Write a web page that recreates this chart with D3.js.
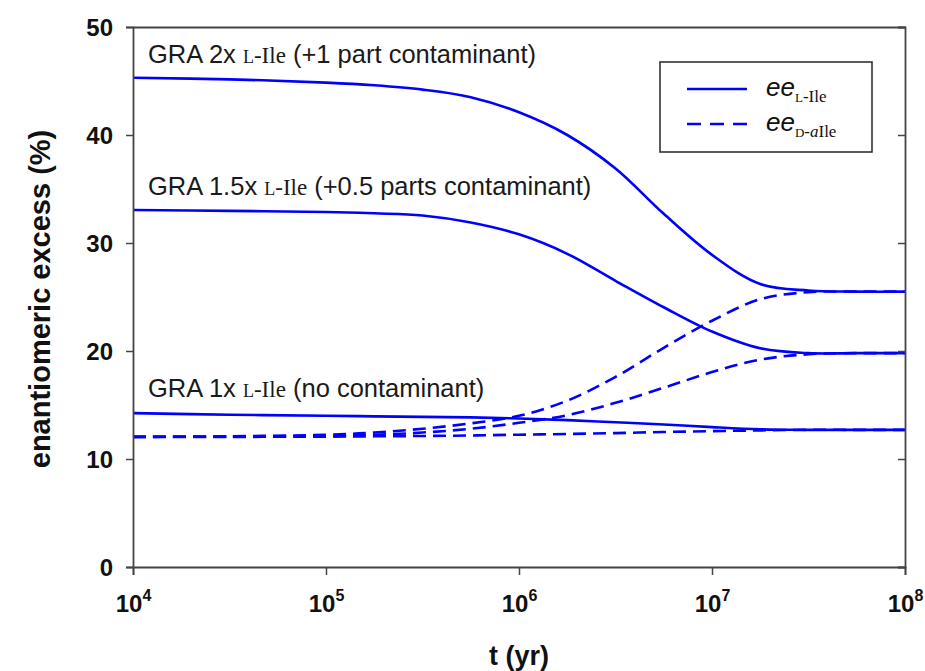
<!DOCTYPE html>
<html>
<head>
<meta charset="utf-8">
<script src="https://cdn.jsdelivr.net/npm/d3@7"></script>
<style>
  body { margin: 0; background: #fff; }
  text { font-family: Arial, "Liberation Sans", sans-serif; }
</style>
</head>
<body>
<svg id="chart" width="925" height="671"></svg>
<script>
// time grid, log10(t / yr)
const logT = [4, 4.5, 5, 5.25, 5.5, 5.75, 6, 6.25, 6.5, 6.75, 7, 7.25, 7.5, 7.75, 8];

// ee of L-Ile (%)
const eeL_2x   = [45.3, 45.15, 44.85, 44.6, 44.2, 43.5, 42.1, 40.0, 36.9, 32.7, 28.9, 26.2, 25.6, 25.5, 25.5];
const eeL_1_5x = [33.05, 32.97, 32.87, 32.75, 32.55, 31.9, 30.8, 29.0, 26.5, 24.05, 21.8, 20.25, 19.8, 19.8, 19.8];
const eeL_1x   = [14.25, 14.1, 14.0, 13.95, 13.9, 13.85, 13.75, 13.6, 13.4, 13.2, 12.95, 12.75, 12.7, 12.7, 12.7];

// ee of D-aIle (%)
const eeD_2x   = [12.05, 12.1, 12.25, 12.45, 12.8, 13.3, 14.0, 15.4, 17.6, 20.3, 22.8, 24.8, 25.45, 25.5, 25.5];
const eeD_1_5x = [12.05, 12.07, 12.15, 12.25, 12.45, 12.8, 13.35, 14.05, 15.2, 16.6, 18.05, 19.2, 19.7, 19.8, 19.8];
const eeD_1x   = [12.05, 12.05, 12.07, 12.1, 12.13, 12.18, 12.25, 12.32, 12.4, 12.5, 12.58, 12.65, 12.7, 12.7, 12.7];

const xTickExp = [4, 5, 6, 7, 8];
const yTicks = [0, 10, 20, 30, 40, 50];

const blue = "#0000ff";
const ink = "#111";
const serif = "'Liberation Serif', 'DejaVu Serif', serif";
const svg = d3.select("#chart");
const m = { left: 133, top: 27, right: 20, bottom: 104 };
const W = 925 - m.left - m.right, H = 671 - m.top - m.bottom;

const x = d3.scaleLog().domain([1e4, 1e8]).range([0, W]);
const y = d3.scaleLinear().domain([0, 50]).range([H, 0]);

const g = svg.append("g").attr("transform", `translate(${m.left},${m.top})`);

// curves: solid = L-Ile, dashed = D-aIle
const series = [
  { v: eeL_2x, dash: null }, { v: eeL_1_5x, dash: null }, { v: eeL_1x, dash: null },
  { v: eeD_2x, dash: "13,7" }, { v: eeD_1_5x, dash: "13,7" }, { v: eeD_1x, dash: "13,7" }
];
const line = d3.line()
  .x(d => x(Math.pow(10, d[0])))
  .y(d => y(d[1]))
  .curve(d3.curveCatmullRom.alpha(0.5));

series.forEach(s => {
  g.append("path")
    .datum(logT.map((t, i) => [t, s.v[i]]))
    .attr("d", line)
    .attr("fill", "none")
    .attr("stroke", blue)
    .attr("stroke-width", 2.6)
    .attr("stroke-dasharray", s.dash);
});

// frame and ticks
const frameColor = "#444";
const gx = g.append("g").attr("transform", `translate(0,${H})`)
  .call(d3.axisBottom(x).tickValues(xTickExp.map(e => Math.pow(10, e))).tickSize(8).tickFormat(""));
const gy = g.append("g")
  .call(d3.axisLeft(y).tickValues(yTicks).tickSize(7).tickFormat(""));
const gyr = g.append("g").attr("transform", `translate(${W},0)`)
  .call(d3.axisRight(y).tickValues(yTicks).tickSize(-7).tickFormat(""));
const gxt = g.append("g")
  .call(d3.axisTop(x).tickValues([]).tickSize(0).tickFormat(""));
[gx, gy, gyr, gxt].forEach(a => {
  a.selectAll("path.domain").attr("stroke", frameColor).attr("stroke-width", 1.8);
  a.selectAll(".tick line").attr("stroke", frameColor).attr("stroke-width", 1.5);
});

// y tick labels
gy.selectAll(".tick").append("text")
  .attr("x", -20).attr("dy", "0.36em")
  .attr("text-anchor", "end")
  .attr("fill", ink)
  .style("font-size", "24px").style("font-weight", "bold")
  .text(d => d);

// x tick labels: 10^n
gx.selectAll(".tick").each(function(d) {
  const e = Math.round(Math.log10(d));
  const t = d3.select(this).append("text")
    .attr("y", 45).attr("text-anchor", "middle")
    .attr("fill", ink)
    .style("font-size", "24px").style("font-weight", "bold");
  t.append("tspan").text("10");
  t.append("tspan").attr("dy", -11).style("font-size", "16px").text(e);
});

// axis titles
svg.append("text")
  .attr("x", m.left + W / 2).attr("y", 665)
  .attr("text-anchor", "middle").attr("fill", ink)
  .style("font-size", "27px").style("font-weight", "bold")
  .text("t (yr)");
svg.append("text")
  .attr("transform", `translate(50,${m.top + H / 2 + 2}) rotate(-90)`)
  .attr("text-anchor", "middle").attr("fill", ink)
  .style("font-size", "29px").style("font-weight", "bold")
  .text("enantiomeric excess (%)");

// curve annotations
const labelLead = ["GRA 2x ", "GRA 1.5x ", "GRA 1x "];
const labelTail = [" (+1 part contaminant)", " (+0.5 parts contaminant)", " (no contaminant)"];
const labelPos = [[148, 63], [148, 195], [148, 397]];
labelLead.forEach((lead, i) => {
  const t = svg.append("text")
    .attr("x", labelPos[i][0]).attr("y", labelPos[i][1])
    .attr("fill", "#1a1a1a").style("font-size", "25.5px");
  t.append("tspan").text(lead);
  t.append("tspan").style("font-family", serif).style("font-size", "18px").text("L");
  t.append("tspan").style("font-family", serif).style("font-size", "23px").text("-Ile");
  t.append("tspan").text(labelTail[i]);
});

// legend
const lg = svg.append("g").attr("transform", "translate(660,62)");
lg.append("rect").attr("width", 212).attr("height", 90)
  .attr("fill", "#fff").attr("stroke", "#333").attr("stroke-width", 1.6);
const legendDash = [null, "14,9"];
const legendY = [27, 62];
legendDash.forEach((dash, i) => {
  lg.append("line").attr("x1", 27).attr("x2", 87)
    .attr("y1", legendY[i]).attr("y2", legendY[i])
    .attr("stroke", blue).attr("stroke-width", 2.6)
    .attr("stroke-dasharray", dash);
});
const l1 = lg.append("text").attr("x", 106).attr("y", 34).attr("fill", ink);
l1.append("tspan").style("font-size", "26px").style("font-style", "italic").text("ee");
l1.append("tspan").attr("dy", 6).style("font-family", serif).style("font-size", "13px").text("L");
l1.append("tspan").style("font-family", serif).style("font-size", "17px").text("-Ile");
const l2 = lg.append("text").attr("x", 106).attr("y", 69).attr("fill", ink);
l2.append("tspan").style("font-size", "26px").style("font-style", "italic").text("ee");
l2.append("tspan").attr("dy", 6).style("font-family", serif).style("font-size", "13px").text("D");
l2.append("tspan").style("font-family", serif).style("font-size", "17px").text("-");
l2.append("tspan").style("font-family", serif).style("font-size", "17px").style("font-style", "italic").text("a");
l2.append("tspan").style("font-family", serif).style("font-size", "17px").text("Ile");
</script>
</body>
</html>
